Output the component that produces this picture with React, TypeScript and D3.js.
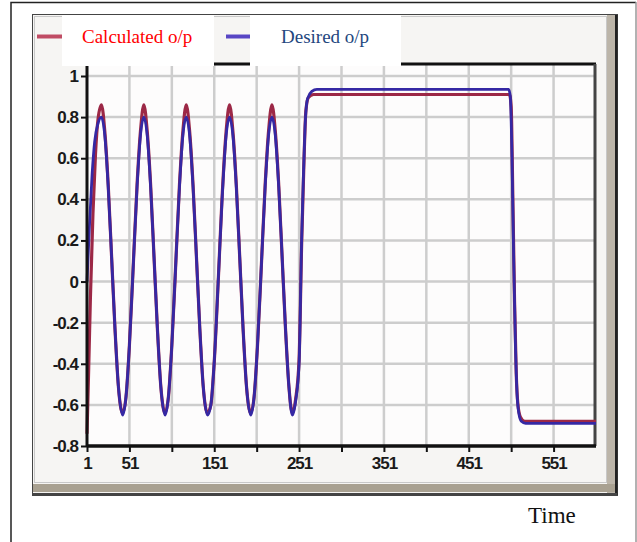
import React, { useEffect, useRef } from 'react';
import * as d3 from 'd3';

// values
const desiredT = [1, 4, 7, 10, 14, 18, 22, 26, 30, 34, 38, 43, 47, 51, 55, 60, 64, 68, 72, 76, 80, 84, 88, 93,
  97, 101, 105, 110, 114, 118, 122, 126, 130, 134, 138, 143, 147, 151, 156, 160, 165, 169, 173, 177, 181, 185,
  189, 194, 198, 202, 206, 211, 215, 219, 223, 227, 231, 235, 239, 243, 247, 251, 254, 256, 258, 261, 266, 272,
  350, 450, 498, 500, 502, 504, 506, 508, 510, 513, 518, 560, 601];
const desiredV = [0.0, 0.28, 0.52, 0.68, 0.77, 0.8, 0.71, 0.46, 0.12, -0.23, -0.51, -0.65, -0.56, -0.31, 0.03, 0.46, 0.71, 0.8, 0.71, 0.46, 0.12, -0.23, -0.51, -0.65,
  -0.56, -0.31, 0.03, 0.46, 0.71, 0.8, 0.71, 0.46, 0.12, -0.23, -0.51, -0.65, -0.6, -0.39, 0.03, 0.38, 0.71, 0.8, 0.71, 0.46, 0.12, -0.23,
  -0.51, -0.65, -0.56, -0.31, 0.03, 0.46, 0.71, 0.8, 0.71, 0.46, 0.12, -0.23, -0.51, -0.65, -0.58, -0.4, 0.2, 0.5, 0.75, 0.89, 0.925, 0.935,
  0.935, 0.935, 0.935, 0.9, 0.6, 0.1, -0.3, -0.55, -0.64, -0.68, -0.69, -0.69, -0.69];

const calcT = [1, 3, 5, 8, 11, 14, 18, 22, 26, 30, 34, 38, 43, 47, 51, 55, 60, 64, 68, 72, 76, 80, 84, 88, 93,
  97, 101, 105, 110, 114, 118, 122, 126, 130, 134, 138, 143, 147, 151, 156, 160, 165, 169, 173, 177, 181, 185,
  189, 194, 198, 202, 206, 211, 215, 219, 223, 227, 231, 235, 239, 243, 247, 251, 254, 257, 259, 262, 268,
  350, 450, 499, 501, 503, 505, 507, 509, 512, 517, 560, 601];
const calcV = [-0.74, -0.42, -0.08, 0.33, 0.62, 0.79, 0.86, 0.73, 0.47, 0.12, -0.23, -0.51, -0.64, -0.56, -0.31, 0.03, 0.47, 0.73, 0.86, 0.73, 0.47, 0.12, -0.23, -0.51, -0.64,
  -0.56, -0.31, 0.03, 0.47, 0.73, 0.86, 0.73, 0.47, 0.12, -0.23, -0.51, -0.64, -0.6, -0.39, 0.03, 0.39, 0.73, 0.86, 0.73, 0.47, 0.12, -0.23,
  -0.51, -0.64, -0.56, -0.31, 0.03, 0.47, 0.73, 0.86, 0.73, 0.47, 0.12, -0.23, -0.51, -0.64, -0.57, -0.38, 0.18, 0.62, 0.83, 0.895, 0.91,
  0.91, 0.91, 0.91, 0.85, 0.4, -0.1, -0.45, -0.6, -0.66, -0.68, -0.68, -0.68];

const xTicks = [1, 51, 101, 151, 201, 251, 301, 351, 401, 451, 501, 551];
const xLabels = [1, 51, 151, 251, 351, 451, 551];
const yTicks = [-0.8, -0.6, -0.4, -0.2, 0, 0.2, 0.4, 0.6, 0.8, 1];
const seriesNames = ['Calculated o/p', 'Desired o/p'];

const App = () => {
  const svgRef = useRef<SVGSVGElement>(null);

  useEffect(() => {
    const width = 637, height = 542;
    const svg = d3.select(svgRef.current);
    svg.selectAll('*').remove();
    svg.attr('width', width).attr('height', height);

    const x = d3.scaleLinear().domain([1, 601]).range([87, 596]);
    const y = d3.scaleLinear().domain([-0.8, 1]).range([446, 76]);
    const top = y(1.058), bottom = y(-0.8), left = x(1), right = x(601);

    // outer page frame
    svg.append('path').attr('d', `M11,${height} V2.5 H636`).attr('fill', 'none').attr('stroke', '#222').attr('stroke-width', 1.5);
    svg.append('line').attr('x1', 636).attr('x2', 636).attr('y1', 2).attr('y2', height).attr('stroke', '#999').attr('stroke-width', 1.5);

    // chart panel
    svg.append('rect').attr('x', 32.5).attr('y', 14.5).attr('width', 585).attr('height', 481)
      .attr('fill', '#f6f5f3').attr('stroke', '#444');
    svg.append('rect').attr('x', 34.5).attr('y', 16.5).attr('width', 572).attr('height', 466)
      .attr('fill', 'none').attr('stroke', '#c8c8c8');
    svg.append('rect').attr('x', 607).attr('y', 15).attr('width', 8).attr('height', 479).attr('fill', '#bcb5a9');
    svg.append('rect').attr('x', 615).attr('y', 15).attr('width', 2.5).attr('height', 480).attr('fill', '#222');
    svg.append('rect').attr('x', 33).attr('y', 484).attr('width', 582).attr('height', 8).attr('fill', '#a9a191');
    svg.append('rect').attr('x', 33).attr('y', 493).attr('width', 584).attr('height', 2).attr('fill', '#444');

    // plot area
    svg.append('rect').attr('x', left).attr('y', top).attr('width', right - left).attr('height', bottom - top)
      .attr('fill', '#fdfcfc');

    const grid = svg.append('g').attr('stroke', '#cdcdcd').attr('stroke-width', 2.5);
    grid.selectAll('line.v').data(xTicks.slice(1)).join('line')
      .attr('x1', d => x(d)).attr('x2', d => x(d)).attr('y1', top).attr('y2', bottom);
    grid.selectAll('line.h').data(yTicks.slice(1)).join('line')
      .attr('x1', left).attr('x2', right).attr('y1', d => y(d)).attr('y2', d => y(d));

    svg.append('line').attr('x1', left).attr('x2', right).attr('y1', top).attr('y2', top)
      .attr('stroke', '#111').attr('stroke-width', 3);
    svg.append('line').attr('x1', right - 1).attr('x2', right - 1).attr('y1', top).attr('y2', bottom)
      .attr('stroke', '#444').attr('stroke-width', 3);

    // series
    const line = d3.line<[number, number]>()
      .x(d => x(d[0])).y(d => y(d[1]))
      .curve(d3.curveMonotoneX);
    const calc = calcT.map((t, i) => [t, calcV[i]] as [number, number]);
    const desired = desiredT.map((t, i) => [t, desiredV[i]] as [number, number]);

    svg.append('path').attr('d', line(calc)).attr('fill', 'none')
      .attr('stroke', '#9c2846').attr('stroke-width', 3.2).attr('stroke-linejoin', 'round');
    svg.append('path').attr('d', line(desired)).attr('fill', 'none')
      .attr('stroke', '#3528a4').attr('stroke-width', 2.8).attr('stroke-linejoin', 'round');

    // axes
    const tickFont = '"Liberation Sans", Arial, sans-serif';
    const xAxis = svg.append('g').attr('transform', `translate(0,${bottom})`)
      .call(d3.axisBottom(x).tickValues(xTicks).tickSize(6).tickSizeOuter(0)
        .tickFormat(d => (xLabels.includes(+d) ? String(d) : '')));
    const yAxis = svg.append('g').attr('transform', `translate(${left},0)`)
      .call(d3.axisLeft(y).tickValues(yTicks).tickSize(6).tickSizeOuter(0)
        .tickFormat(d => String(+d)));
    [xAxis, yAxis].forEach(g => {
      g.select('.domain').remove();
      g.selectAll('.tick line').attr('stroke', '#111').attr('stroke-width', 2);
      g.selectAll('.tick text').attr('fill', '#1a1a1a').style('font-family', tickFont)
        .style('font-weight', 'bold').style('font-size', '17px').style('letter-spacing', '-1px');
    });
    xAxis.selectAll('.tick text').attr('dy', '0.85em');
    yAxis.selectAll('.tick text').attr('x', -9);
    svg.append('line').attr('x1', left).attr('x2', right).attr('y1', bottom).attr('y2', bottom)
      .attr('stroke', '#111').attr('stroke-width', 3.5);
    svg.append('line').attr('x1', left).attr('x2', left).attr('y1', top).attr('y2', bottom + 1)
      .attr('stroke', '#111').attr('stroke-width', 3);

    // legend
    const legendColors = ['#c04c64', '#5846c4'];
    const textColors = ['#ff0000', '#23477e'];
    const legendX = [37, 226];
    const boxX = [62, 250];
    const boxW = [152, 151];
    const leg = svg.append('g').selectAll('g').data(seriesNames).join('g');
    leg.append('rect').attr('x', (d, i) => boxX[i]).attr('y', 15).attr('width', (d, i) => boxW[i]).attr('height', 51)
      .attr('fill', '#ffffff');
    leg.append('line').attr('x1', (d, i) => legendX[i]).attr('x2', (d, i) => boxX[i])
      .attr('y1', 36.5).attr('y2', 36.5).attr('stroke', (d, i) => legendColors[i]).attr('stroke-width', 4);
    leg.append('text').attr('x', (d, i) => boxX[i] + (i === 0 ? 20 : 31)).attr('y', 43)
      .attr('fill', (d, i) => textColors[i])
      .style('font-family', '"Liberation Serif", "Times New Roman", serif').style('font-size', '19px')
      .text(d => d);

    svg.append('text').attr('x', 528).attr('y', 523)
      .style('font-family', '"Liberation Serif", "Times New Roman", serif').style('font-size', '23px')
      .attr('fill', '#111').text('Time');
  }, []);

  return <svg ref={svgRef} style={{ position: 'absolute', left: 0, top: 0 }}></svg>;
};

export default App;
